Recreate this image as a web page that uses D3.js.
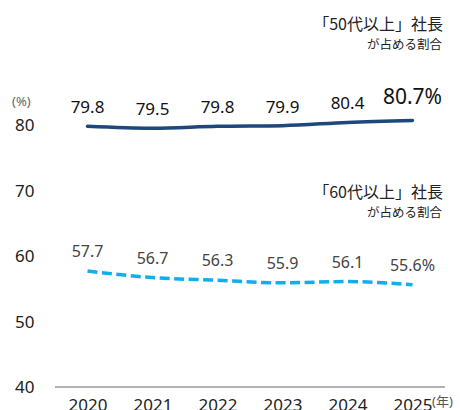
<!DOCTYPE html>
<html><head><meta charset="utf-8">
<script src="https://cdn.jsdelivr.net/npm/d3@7"></script>
<style>body{margin:0;background:#fff;} svg{display:block;font-family:"Noto Sans","Noto Sans CJK JP",sans-serif;}</style>
</head><body>
<svg id="c" width="460" height="410"></svg>
<script>
const years = ["2020","2021","2022","2023","2024","2025"];
const over50 = [79.8, 79.5, 79.8, 79.9, 80.4, 80.7];
const over60 = [57.7, 56.7, 56.3, 55.9, 56.1, 55.6];
const yTicks = [40, 50, 60, 70, 80];
const title50 = ["「50代以上」社長", "が占める割合"];
const title60 = ["「60代以上」社長", "が占める割合"];

const svg = d3.select("#c");
const x = d3.scalePoint().domain(years).range([55, 445]).padding(0.5);
const y = d3.scaleLinear().domain([40, 80]).range([387, 125]);

// y tick labels
svg.append("g").selectAll("text").data(yTicks).join("text")
  .attr("x", 15).attr("y", d => y(d) + 6)
  .attr("font-size", 17).attr("fill", "#222").text(d => d);
svg.append("text").attr("x", 12).attr("y", 106).attr("font-size", 13).attr("fill", "#666").text("(%)");

// x axis
const xa = svg.append("g").attr("transform", "translate(0,387)")
  .call(d3.axisBottom(x).tickSize(0).tickPadding(6).tickSizeOuter(0));
xa.select(".domain").attr("stroke", "#666").attr("d", "M55,0H445");
xa.selectAll("text").attr("font-size", 17).attr("fill", "#222").attr("font-family", "Noto Sans, sans-serif").attr("dy", "1.08em");
svg.append("text").attr("x", 432).attr("y", 406).attr("font-size", 13).attr("fill", "#555").text("(年)");

const line = d3.line().x((d, i) => x(years[i])).y(d => y(d)).curve(d3.curveMonotoneX);
svg.append("path").datum(over50).attr("d", line).attr("fill", "none")
  .attr("stroke", "#1e477c").attr("stroke-width", 3.5).attr("stroke-linecap", "round");
svg.append("path").datum(over60).attr("d", line).attr("fill", "none")
  .attr("stroke", "#0eaeef").attr("stroke-width", 3.5).attr("stroke-dasharray", "10,4.5");

// value labels
svg.append("g").selectAll("text").data(over50).join("text")
  .attr("x", (d, i) => x(years[i]))
  .attr("y", (d, i) => y(d) - (i === 5 ? 16 : 13))
  .attr("text-anchor", "middle")
  .attr("font-size", (d, i) => i === 5 ? 21 : 17)
  .attr("fill", "#111")
  .text((d, i) => d.toFixed(1) + (i === 5 ? "%" : ""));
svg.append("g").selectAll("text").data(over60).join("text")
  .attr("x", (d, i) => x(years[i]))
  .attr("y", d => y(d) - 14)
  .attr("text-anchor", "middle")
  .attr("font-size", 16)
  .attr("fill", "#444")
  .text((d, i) => d.toFixed(1) + (i === 5 ? "%" : ""));

// titles
function title(lines, yb) {
  svg.append("text").attr("x", 443).attr("y", yb).attr("text-anchor", "end")
    .attr("font-size", 16).attr("fill", "#222").attr("font-family", "Noto Sans CJK JP, sans-serif").text(lines[0]);
  svg.append("text").attr("x", 442).attr("y", yb + 19).attr("text-anchor", "end")
    .attr("font-size", 12.5).attr("fill", "#222").attr("font-family", "Noto Sans CJK JP, sans-serif").text(lines[1]);
}
title(title50, 30);
title(title60, 198);
</script>
</body></html>
